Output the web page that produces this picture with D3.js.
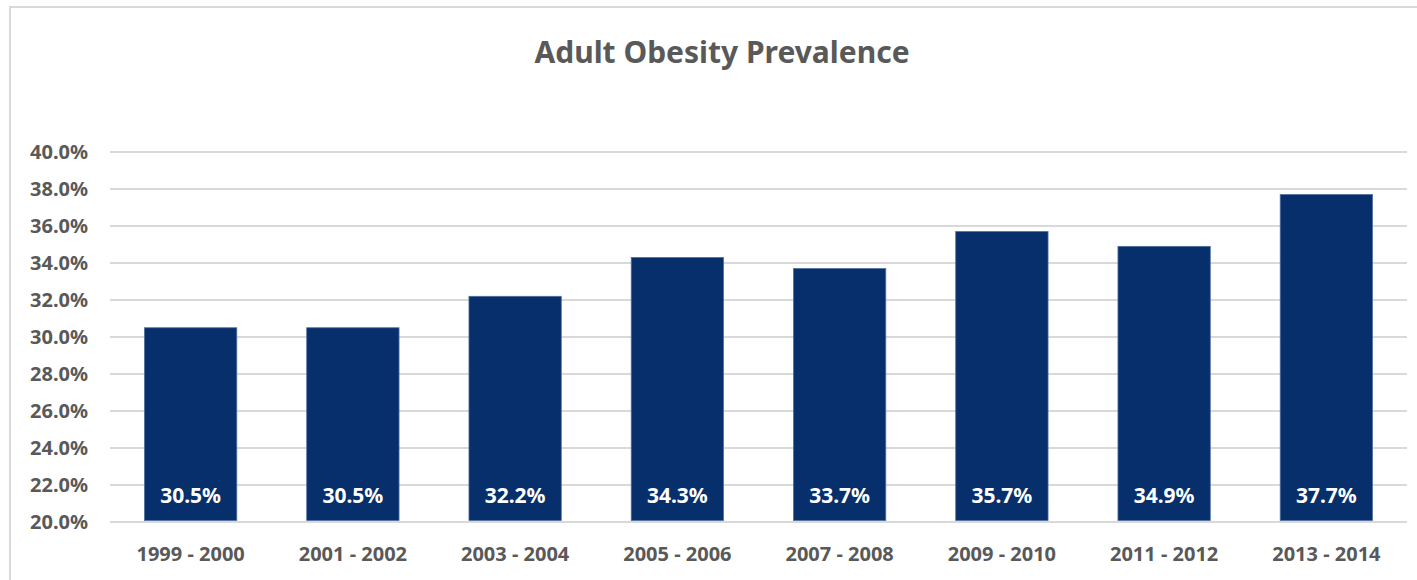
<!DOCTYPE html>
<html lang="en">
<head>
<meta charset="UTF-8">
<title>Adult Obesity Prevalence</title>
<script src="https://d3js.org/d3.v7.min.js"></script>
<style>
  body { margin: 0; background: #fff; }
  text { font-family: "Noto Sans", "Open Sans", sans-serif; }
</style>
</head>
<body>
<svg id="vis" width="1417" height="580"></svg>
<script>
// data
var periods = ["1999 - 2000", "2001 - 2002", "2003 - 2004", "2005 - 2006",
               "2007 - 2008", "2009 - 2010", "2011 - 2012", "2013 - 2014"];
var prevalence = [30.5, 30.5, 32.2, 34.3, 33.7, 35.7, 34.9, 37.7];
var yTicks = [20, 22, 24, 26, 28, 30, 32, 34, 36, 38, 40];

var svg = d3.select("#vis");

// chart frame (Excel style)
svg.append("rect")
  .attr("x", 10).attr("y", 7)
  .attr("width", 1440).attr("height", 600)
  .attr("fill", "#fff")
  .attr("stroke", "#d9d9d9").attr("stroke-width", 2);

// title
svg.append("text")
  .attr("x", 722).attr("y", 63)
  .attr("text-anchor", "middle")
  .attr("font-size", 30).attr("font-weight", "bold")
  .attr("fill", "#595959")
  .text("Adult Obesity Prevalence");

// scales
var scaleX = d3.scaleBand()
  .domain(periods)
  .range([109.5, 1407.5])
  .paddingInner(0.431)
  .paddingOuter(0.2155);

var scaleY = d3.scaleLinear()
  .domain([20, 40])
  .range([522, 152]);

// gridlines
var gGrid = svg.append("g");
gGrid.selectAll("line").data(yTicks).join("line")
  .attr("x1", 110).attr("x2", 1407)
  .attr("y1", function(d) { return scaleY(d); })
  .attr("y2", function(d) { return scaleY(d); })
  .attr("stroke", "#d9d9d9").attr("stroke-width", 2);

// y axis
var yAxis = d3.axisLeft(scaleY)
  .tickValues(yTicks)
  .tickSize(0)
  .tickPadding(0)
  .tickFormat(function(d) { return d.toFixed(1) + "%"; });
var gy = svg.append("g").attr("transform", "translate(88,0)").call(yAxis);
gy.select(".domain").remove();
gy.selectAll("text")
  .attr("font-size", 20).attr("font-weight", "bold")
  .attr("fill", "#595959")
  .attr("font-family", "Noto Sans, sans-serif");

// x axis
var xAxis = d3.axisBottom(scaleX).tickSize(0).tickPadding(0);
var gx = svg.append("g").attr("transform", "translate(0,522)").call(xAxis);
gx.select(".domain").remove();
gx.selectAll("text")
  .attr("dy", null)
  .attr("y", 39)
  .attr("font-size", 20).attr("font-weight", "bold")
  .attr("fill", "#595959")
  .attr("font-family", "Noto Sans, sans-serif");

// bars
var gBars = svg.append("g");
gBars.selectAll("rect").data(periods).join("rect")
  .attr("x", function(d) { return scaleX(d); })
  .attr("width", scaleX.bandwidth())
  .attr("y", function(d, i) { return scaleY(prevalence[i]); })
  .attr("height", function(d, i) { return scaleY(20) - 1.5 - scaleY(prevalence[i]); })
  .attr("fill", "#072f6b")
  .attr("stroke", "#4f6f9f").attr("stroke-width", 0.8);

// value labels
gBars.selectAll("text").data(periods).join("text")
  .attr("x", function(d) { return scaleX(d) + scaleX.bandwidth() / 2; })
  .attr("y", 503)
  .attr("text-anchor", "middle")
  .attr("font-size", 21).attr("font-weight", "bold")
  .attr("fill", "#fff")
  .text(function(d, i) { return prevalence[i].toFixed(1) + "%"; });
</script>
</body>
</html>
